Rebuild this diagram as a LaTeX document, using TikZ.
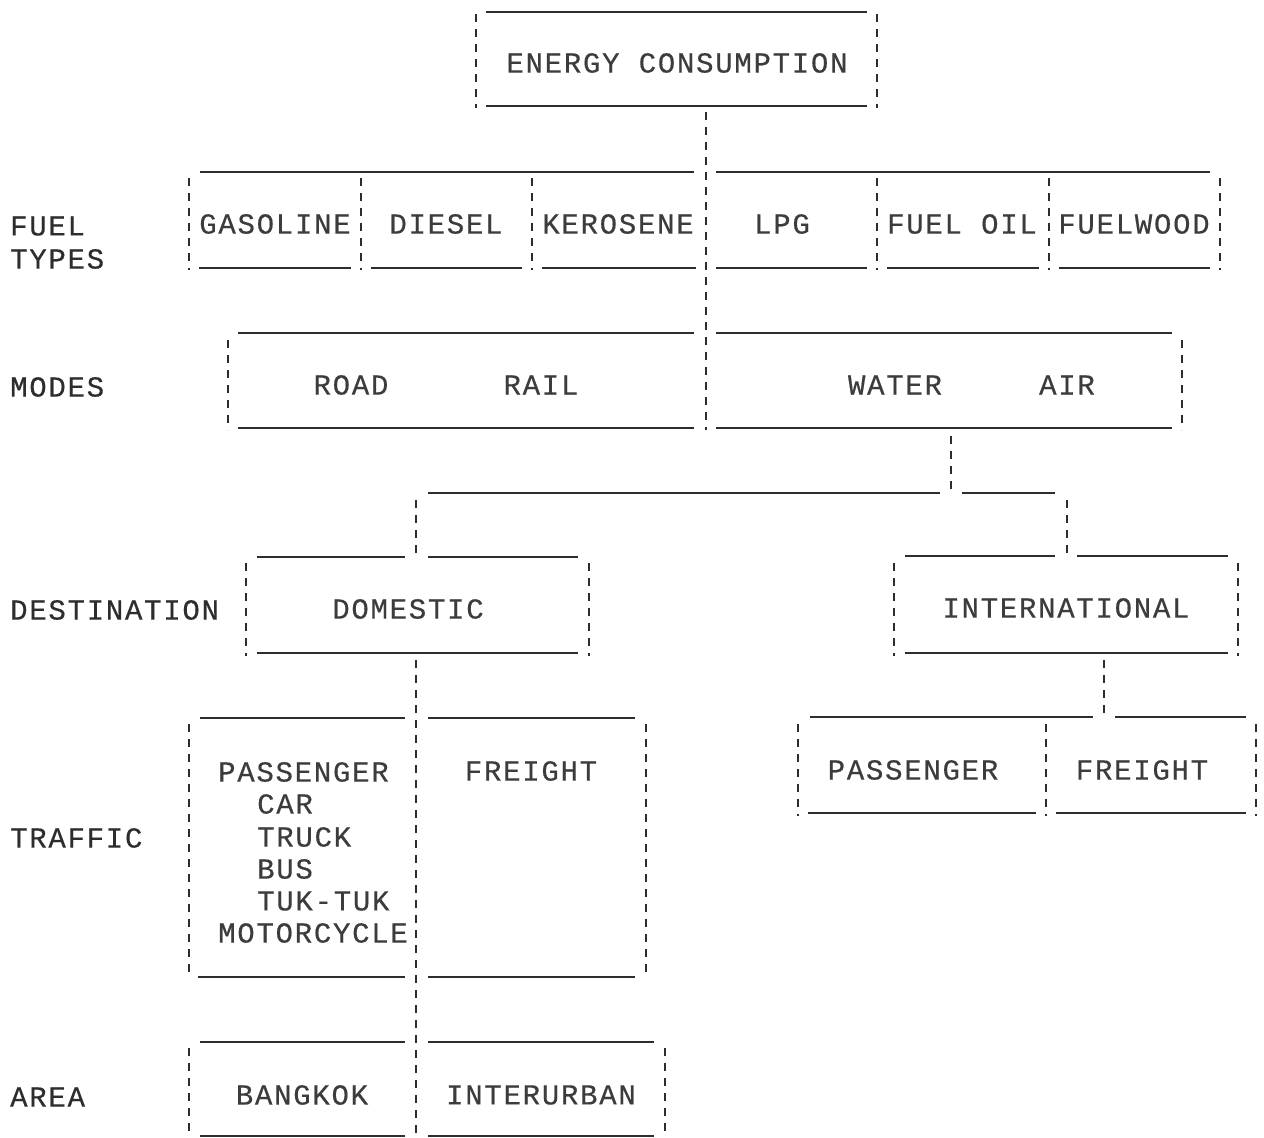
\documentclass[tikz,border=0pt]{standalone}
\usepackage{fontspec}
\newfontfamily\chartfont{Liberation Mono}[LetterSpace=6, FakeBold=0.4]
\definecolor{ink}{RGB}{45,45,45}
\definecolor{textink}{RGB}{60,60,60}
\tikzset{
  rule/.style={ink, line width=1.6pt},
  bar/.style={ink, line width=2.6pt, dash pattern=on 8pt off 7pt},
  word/.style={font=\chartfont\fontsize{29}{34}\selectfont, text=textink, inner sep=0pt},
  rowlabel/.style={word, anchor=west, text=ink},
}
\begin{document}
\begin{tikzpicture}[x=1pt, y=-1pt]
  \useasboundingbox (0,0) rectangle (1264,1138);

  % Row labels on the left
  \node[rowlabel] (lfuel) at (10,226) {FUEL};
  \node[rowlabel] (ltypes) at (10,259) {TYPES};
  \node[rowlabel] (lmodes) at (10,387) {MODES};
  \node[rowlabel] (ldest) at (10,610) {DESTINATION};
  \node[rowlabel] (ltraffic) at (10,838) {TRAFFIC};
  \node[rowlabel] (larea) at (10,1097) {AREA};

  % Top box
  \node[word] (energy) at (677,63) {ENERGY CONSUMPTION};
  \draw[rule] (486,12) -- (867,12);
  \draw[rule] (486,106) -- (867,106);
  \draw[bar] (476,14) -- (476,108);
  \draw[bar] (877,14) -- (877,108);

  % Trunk down to the modes
  \coordinate (energy-s) at (706,112);
  \coordinate (modes-s) at (706,430);
  \draw[bar] (energy-s) -- (modes-s);

  % Fuel types
  \draw[rule] (200,172) -- (694,172);
  \draw[rule] (716,172) -- (1210,172);
  \foreach \x in {189,361,532,877,1049,1220} {
    \draw[bar] (\x,178) -- (\x,270); % cell walls
  }
  \foreach \a/\b in {199/351,371/522,542/696,716/867,887/1039,1059/1210} {
    \draw[rule] (\a,268) -- (\b,268); % cell floors
  }
  \node[word] (gasoline) at (275,224) {GASOLINE};
  \node[word] (diesel) at (446,224) {DIESEL};
  \node[word] (kerosene) at (618,224) {KEROSENE};
  \node[word] (lpg) at (782,224) {LPG};
  \node[word] (fueloil) at (962,224) {FUEL OIL};
  \node[word] (fuelwood) at (1134,224) {FUELWOOD};

  % Modes
  \foreach \y in {333,428} {
    \draw[rule] (238,\y) -- (694,\y);
    \draw[rule] (716,\y) -- (1172,\y);
  }
  \draw[bar] (228,340) -- (228,430);
  \draw[bar] (1182,340) -- (1182,430);
  \node[word] (road) at (351,385) {ROAD};
  \node[word] (rail) at (541,385) {RAIL};
  \node[word] (water) at (895,385) {WATER};
  \node[word] (air) at (1067,385) {AIR};

  % Split into destinations
  \coordinate (wa-s) at (951,436);
  \coordinate (fork) at (951,493);
  \coordinate (dom-n) at (416,558);
  \coordinate (int-n) at (1067,558);
  \draw[bar] (wa-s) -- (fork);
  \draw[rule] (428,493) -- (940,493);
  \draw[rule] (962,493) -- (1055,493);
  \draw[bar] (416,500) -- (dom-n);
  \draw[bar] (1067,500) -- (int-n);

  % Domestic
  \draw[rule] (257,557) -- (405,557);
  \draw[rule] (428,557) -- (578,557);
  \draw[rule] (257,653) -- (578,653);
  \draw[bar] (246,563) -- (246,656);
  \draw[bar] (589,563) -- (589,656);
  \node[word] (domestic) at (408,609) {DOMESTIC};

  % International
  \draw[rule] (905,556) -- (1055,556);
  \draw[rule] (1077,556) -- (1228,556);
  \draw[rule] (905,653) -- (1228,653);
  \draw[bar] (894,563) -- (894,656);
  \draw[bar] (1238,563) -- (1238,656);
  \node[word] (international) at (1066,608) {INTERNATIONAL};

  % Domestic trunk through traffic and area
  \coordinate (dom-s) at (416,660);
  \coordinate (area-s) at (416,1138);
  \draw[bar] (dom-s) -- (area-s);

  % Traffic (domestic)
  \draw[rule] (200,718) -- (405,718);
  \draw[rule] (428,718) -- (635,718);
  \draw[rule] (198,977) -- (405,977);
  \draw[rule] (428,977) -- (635,977);
  \draw[bar] (189,724) -- (189,978);
  \draw[bar] (646,724) -- (646,978);
  \node[word, anchor=west] (pass) at (218,772) {PASSENGER};
  \node[word, anchor=west] (car) at (257,804) {CAR};
  \node[word, anchor=west] (truck) at (257,837) {TRUCK};
  \node[word, anchor=west] (bus) at (257,869) {BUS};
  \node[word, anchor=west] (tuktuk) at (257,901) {TUK-TUK};
  \node[word, anchor=west] (moto) at (218,933) {MOTORCYCLE};
  \node[word] (freight) at (531,771) {FREIGHT};

  % Area
  \draw[rule] (200,1042) -- (405,1042);
  \draw[rule] (428,1042) -- (654,1042);
  \draw[rule] (200,1136) -- (405,1136);
  \draw[rule] (428,1136) -- (654,1136);
  \draw[bar] (189,1048) -- (189,1138);
  \draw[bar] (665,1048) -- (665,1138);
  \node[word] (bangkok) at (302,1095) {BANGKOK};
  \node[word] (interurban) at (541,1095) {INTERURBAN};

  % Traffic (international)
  \coordinate (int-s) at (1104,660);
  \coordinate (itr-n) at (1104,716);
  \draw[bar] (int-s) -- (itr-n);
  \draw[rule] (810,717) -- (1093,717);
  \draw[rule] (1115,717) -- (1246,717);
  \draw[rule] (808,813) -- (1036,813);
  \draw[rule] (1056,813) -- (1246,813);
  \foreach \x in {798,1046,1256} {
    \draw[bar] (\x,724) -- (\x,816);
  }
  \node[word] (ipass) at (913,770) {PASSENGER};
  \node[word] (ifreight) at (1142,770) {FREIGHT};
\end{tikzpicture}
\end{document}
